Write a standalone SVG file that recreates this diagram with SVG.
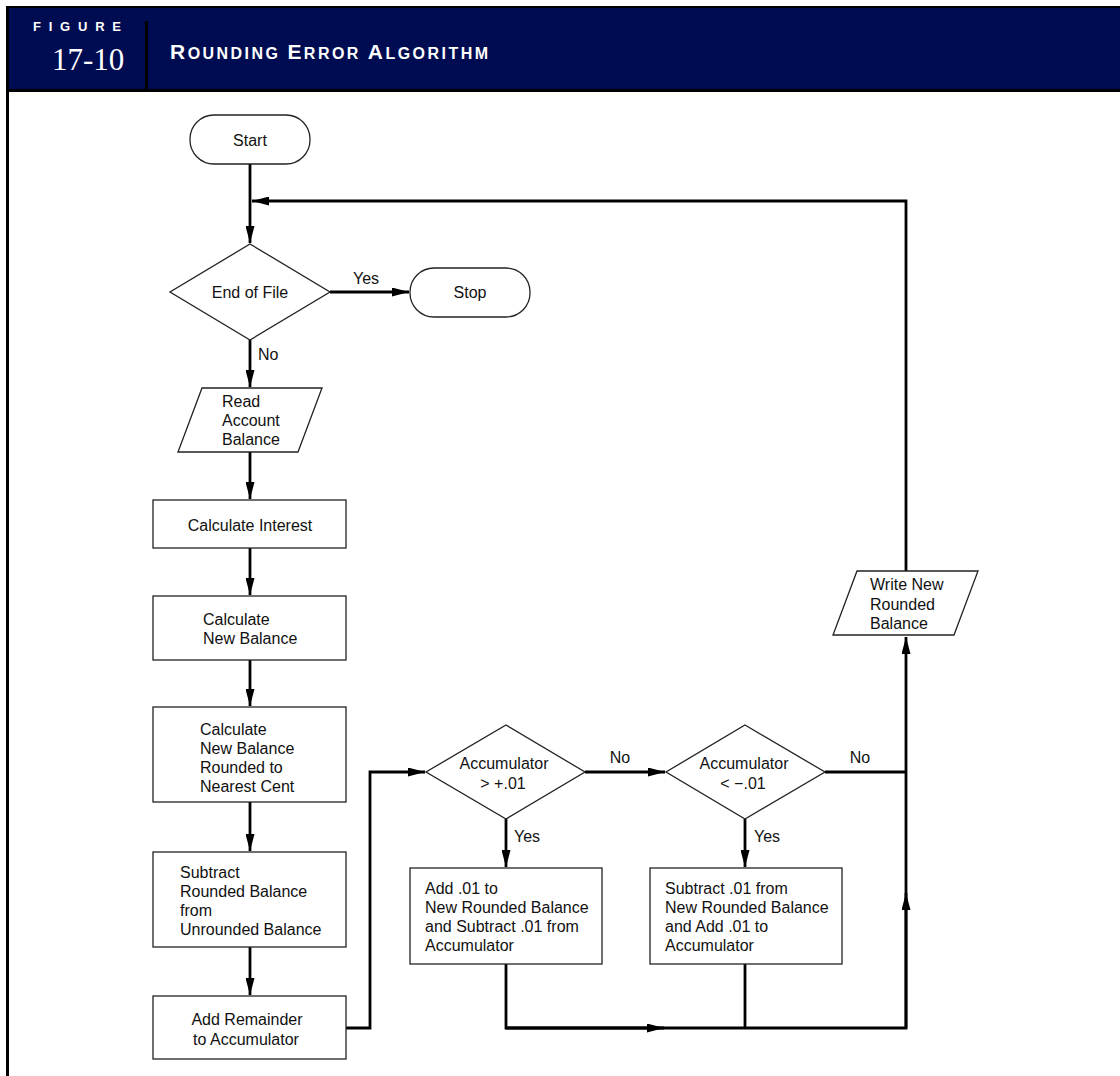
<svg xmlns="http://www.w3.org/2000/svg" width="1120" height="1076" viewBox="0 0 1120 1076">
<style>
.shape{fill:#fff;stroke:#222;stroke-width:1.3}
.t{font-family:"Liberation Sans",Arial,sans-serif;font-size:16px;fill:#111}
.c{text-anchor:middle}
.ln{fill:none;stroke:#000;stroke-width:2.8}
</style>
<defs>
<marker id="a" viewBox="0 0 17 9" refX="17" refY="4.5" markerWidth="17" markerHeight="9" markerUnits="userSpaceOnUse" orient="auto">
<path d="M0,0 L17,4.5 L0,9 z" fill="#000"/>
</marker>
</defs>
<rect width="1120" height="1076" fill="#fff"/>
<g id="header">
<rect x="6" y="6" width="1114" height="86" fill="#000"/>
<rect x="9" y="8" width="1111" height="81" fill="#000c52"/>
<rect x="145" y="21" width="3" height="69" fill="#000"/>
<rect x="6" y="6" width="3" height="1070" fill="#000"/>
<text x="33" y="31" font-family="'Liberation Sans',Arial,sans-serif" font-weight="bold" font-size="13" fill="#fff" textLength="88" lengthAdjust="spacing">FIGURE</text>
<text x="52" y="70" font-family="'Liberation Serif','Times New Roman',serif" font-size="31" fill="#fff">17-10</text>
<text x="170" y="59" font-family="'Liberation Sans',Arial,sans-serif" font-weight="bold" fill="#fff" font-size="16" textLength="318" lengthAdjust="spacing"><tspan font-size="21">R</tspan>OUNDING <tspan font-size="21">E</tspan>RROR <tspan font-size="21">A</tspan>LGORITHM</text>
</g>
<g id="connectors">
<path class="ln" d="M250,164 V243" marker-end="url(#a)"/>
<path class="ln" d="M906,571 V201 H252" marker-end="url(#a)"/>
<path class="ln" d="M330,292 H409" marker-end="url(#a)"/>
<path class="ln" d="M250,340 V387" marker-end="url(#a)"/>
<path class="ln" d="M250,452 V499" marker-end="url(#a)"/>
<path class="ln" d="M250,548 V595" marker-end="url(#a)"/>
<path class="ln" d="M250,660 V706" marker-end="url(#a)"/>
<path class="ln" d="M250,802 V851" marker-end="url(#a)"/>
<path class="ln" d="M250,947 V995" marker-end="url(#a)"/>
<path class="ln" d="M346,1028 H370 V772 H425" marker-end="url(#a)"/>
<path class="ln" d="M585,772 H665" marker-end="url(#a)"/>
<path class="ln" d="M506,819 V867" marker-end="url(#a)"/>
<path class="ln" d="M745,819 V867" marker-end="url(#a)"/>
<path class="ln" d="M825,772 H906"/>
<path class="ln" d="M506,964 V1028 H906 V637" marker-end="url(#a)"/>
<path class="ln" d="M506,1028 H664" marker-end="url(#a)"/>
<path class="ln" d="M906,1028 V893" marker-end="url(#a)"/>
<path class="ln" d="M745,964 V1028"/>
<text class="t c" x="366" y="284">Yes</text>
<text class="t" x="258" y="360">No</text>
<text class="t c" x="620" y="763">No</text>
<text class="t c" x="860" y="763">No</text>
<text class="t" x="514" y="842">Yes</text>
<text class="t" x="754" y="842">Yes</text>
</g>
<g id="start">
<rect class="shape" x="190" y="115" width="120" height="49" rx="24"/>
<text class="t c" x="250" y="146">Start</text>
</g>
<g id="end-of-file">
<polygon class="shape" points="250,244 330,292 250,340 170,292"/>
<text class="t c" x="250" y="298">End of File</text>
</g>
<g id="stop">
<rect class="shape" x="410" y="268" width="120" height="49" rx="24"/>
<text class="t c" x="470" y="298">Stop</text>
</g>
<g id="read">
<polygon class="shape" points="202,388 322,388 298,452 178,452"/>
<text class="t" x="222" y="407">Read</text>
<text class="t" x="222" y="426">Account</text>
<text class="t" x="222" y="445">Balance</text>
</g>
<g id="calc-interest">
<rect class="shape" x="153" y="500" width="193" height="48"/>
<text class="t c" x="250" y="531">Calculate Interest</text>
</g>
<g id="calc-new">
<rect class="shape" x="153" y="596" width="193" height="64"/>
<text class="t" x="203" y="625">Calculate</text>
<text class="t" x="203" y="644">New Balance</text>
</g>
<g id="calc-rounded">
<rect class="shape" x="153" y="707" width="193" height="95"/>
<text class="t" x="200" y="735">Calculate</text>
<text class="t" x="200" y="754">New Balance</text>
<text class="t" x="200" y="773">Rounded to</text>
<text class="t" x="200" y="792">Nearest Cent</text>
</g>
<g id="subtract">
<rect class="shape" x="153" y="852" width="193" height="95"/>
<text class="t" x="180" y="878">Subtract</text>
<text class="t" x="180" y="897">Rounded Balance</text>
<text class="t" x="180" y="916">from</text>
<text class="t" x="180" y="935">Unrounded Balance</text>
</g>
<g id="add-remainder">
<rect class="shape" x="153" y="996" width="193" height="63"/>
<text class="t c" x="247" y="1025">Add Remainder</text>
<text class="t c" x="246" y="1045">to Accumulator</text>
</g>
<g id="acc-pos">
<polygon class="shape" points="506,725 585,772 506,819 426,772"/>
<text class="t c" x="504" y="769">Accumulator</text>
<text class="t c" x="503" y="789">&gt; +.01</text>
</g>
<g id="acc-neg">
<polygon class="shape" points="745,725 825,772 745,819 666,772"/>
<text class="t c" x="744" y="769">Accumulator</text>
<text class="t c" x="743" y="789">&lt; −.01</text>
</g>
<g id="add-box">
<rect class="shape" x="410" y="868" width="192" height="96"/>
<text class="t" x="425" y="894">Add .01 to</text>
<text class="t" x="425" y="913">New Rounded Balance</text>
<text class="t" x="425" y="932">and Subtract .01 from</text>
<text class="t" x="425" y="951">Accumulator</text>
</g>
<g id="sub-box">
<rect class="shape" x="650" y="868" width="192" height="96"/>
<text class="t" x="665" y="894">Subtract .01 from</text>
<text class="t" x="665" y="913">New Rounded Balance</text>
<text class="t" x="665" y="932">and Add .01 to</text>
<text class="t" x="665" y="951">Accumulator</text>
</g>
<g id="write">
<polygon class="shape" points="857,571 978,571 954,635 833,635"/>
<text class="t" x="870" y="590">Write New</text>
<text class="t" x="870" y="610">Rounded</text>
<text class="t" x="870" y="629">Balance</text>
</g>
</svg>
